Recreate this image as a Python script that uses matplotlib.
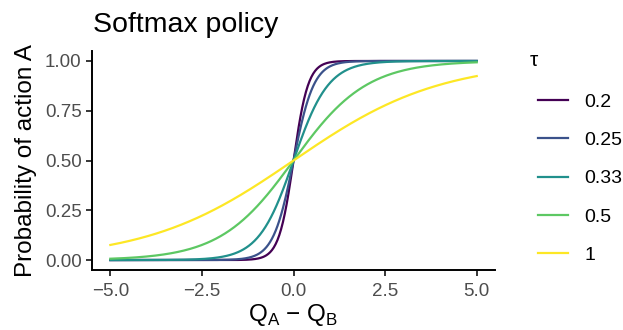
import numpy as np
import matplotlib.pyplot as plt

plt.rcParams['font.family'] = ['Liberation Sans', 'DejaVu Sans']

# legend entries, and the steepness of each curve
tau_labels = ['0.2', '0.25', '0.33', '0.5', '1']
slopes = [5.0, 3.6, 2.1, 1.0, 0.5]
colors = ['#440154', '#3B528B', '#21908C', '#5DC863', '#FDE725']
x_min, x_max = -5.0, 5.0
x_ticks = [-5.0, -2.5, 0.0, 2.5, 5.0]
y_ticks = [0.0, 0.25, 0.5, 0.75, 1.0]


def choice_prob(d, k):
    # probability of choosing A for a difference d = Q_A - Q_B
    return 1 / (1 + np.exp(-k * d))


fig = plt.figure(figsize=(6.23, 3.3), dpi=100)
ax = fig.add_axes([0.1477, 0.1818, 0.6469, 0.6636])

d = np.linspace(x_min, x_max, 400)
for k, lab, col in zip(slopes, tau_labels, colors):
    ax.plot(d, choice_prob(d, k), color=col, linewidth=1.6, label=lab)

ax.set_xlim(-5.5, 5.5)
ax.set_ylim(-0.05, 1.05)
ax.set_xticks(x_ticks)
ax.set_xticklabels(['\u22125.0', '\u22122.5', '0.0', '2.5', '5.0'])
ax.set_yticks(y_ticks)
ax.set_yticklabels(['0.00', '0.25', '0.50', '0.75', '1.00'])

for side in ['top', 'right']:
    ax.spines[side].set_visible(False)
for side in ['left', 'bottom']:
    ax.spines[side].set_linewidth(1.4)
ax.tick_params(axis='both', labelsize=13.5, colors='black', labelcolor='#4D4D4D',
               length=4, width=1.1)
ax.tick_params(axis='x', pad=5.5)

ax.set_xlabel('Q$_\\mathregular{A}$ \u2212 Q$_\\mathregular{B}$', fontsize=17.5, labelpad=1)
ax.set_ylabel('Probability of action A', fontsize=17.5, labelpad=6)
fig.text(0.149, 0.925, 'Softmax policy', fontsize=20.5, ha='left', va='center')

# legend title drawn on its own so the gap above the first key matches
fig.text(530 / 623, 1 - 60 / 330, '\u03c4', fontsize=15, ha='left', va='center')
leg = ax.legend(loc='upper left', bbox_to_anchor=(0.836, 0.770),
                bbox_transform=fig.transFigure, frameon=False, fontsize=14,
                handlelength=1.55, labelspacing=1.06, handletextpad=0.8)

fig.savefig('out.png', dpi=100)
